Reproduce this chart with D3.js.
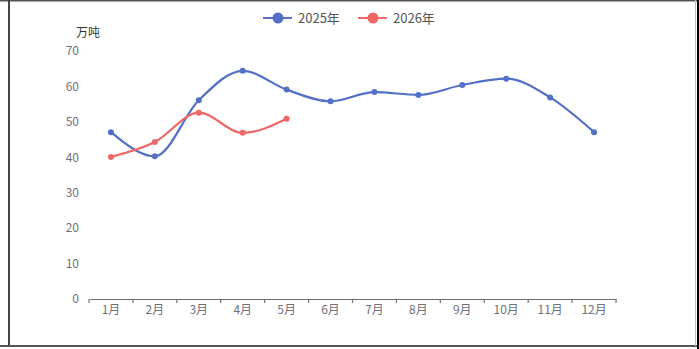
<!DOCTYPE html>
<html>
<head>
<meta charset="utf-8">
<script src="https://cdn.jsdelivr.net/npm/d3@7"></script>
<style>
  body { margin: 0; background: #fff; }
  text { font-family: "Noto Sans CJK SC", "Noto Sans", sans-serif; }
</style>
</head>
<body>
<div class="container"></div>
<script>
var w = 699;
var h = 349;

// data
var months = ["1月", "2月", "3月", "4月", "5月", "6月", "7月", "8月", "9月", "10月", "11月", "12月"];
var values2025 = [47.1, 40.3, 56.1, 64.4, 59.1, 55.8, 58.4, 57.6, 60.4, 62.2, 56.9, 47.1];
var values2026 = [40.1, 44.3, 52.6, 46.9, 50.9];
var yTicks = [0, 10, 20, 30, 40, 50, 60, 70];
var seriesNames = ["2025年", "2026年"];
var colors = ["#5470c6", "#ee6666"];

var svg = d3.select('.container')
  .append('svg')
  .attr('width', w)
  .attr('height', h);

// frame
svg.append('line').attr('x1', 0).attr('x2', w).attr('y1', 0.5).attr('y2', 0.5)
  .style('stroke', '#555').style('stroke-width', 2);
svg.append('line').attr('x1', 9).attr('x2', 9).attr('y1', 0).attr('y2', 346)
  .style('stroke', '#444').style('stroke-width', 2);
svg.append('line').attr('x1', 0).attr('x2', w).attr('y1', 346).attr('y2', 346)
  .style('stroke', '#555').style('stroke-width', 2);
svg.append('line').attr('x1', 695.5).attr('x2', 695.5).attr('y1', 0).attr('y2', 346)
  .style('stroke', '#bbb').style('stroke-width', 1);
svg.append('line').attr('x1', 698).attr('x2', 698).attr('y1', 0).attr('y2', h)
  .style('stroke', '#000').style('stroke-width', 2);

var xScale = d3.scaleBand()
  .domain(months)
  .range([89, 616]);

var yScale = d3.scaleLinear()
  .domain([0, 70])
  .range([299, 51]);

// x axis
var xAxis = d3.axisBottom(xScale).tickSize(0).tickPadding(6);
var xg = svg.append('g')
  .attr('transform', 'translate(0,299)')
  .call(xAxis);
xg.select('.domain').style('stroke', '#6E7079').style('stroke-width', 1.2);
xg.selectAll('text').style('fill', '#6E7079').style('font-size', '12px');

// boundary ticks
var bounds = months.map(function(m) { return xScale(m); }).concat([xScale.range()[1]]);
svg.append('g').selectAll('line')
  .data(bounds)
  .enter()
  .append('line')
  .attr('x1', function(d) { return d; })
  .attr('x2', function(d) { return d; })
  .attr('y1', 299)
  .attr('y2', 303)
  .style('stroke', '#6E7079')
  .style('stroke-width', 1.2);

// y axis labels
var yAxis = d3.axisLeft(yScale).tickValues(yTicks).tickSize(0).tickPadding(10);
var yg = svg.append('g')
  .attr('transform', 'translate(89,0)')
  .call(yAxis);
yg.select('.domain').remove();
yg.selectAll('text').style('fill', '#6E7079').style('font-size', '12px');

svg.append('text')
  .attr('x', 88)
  .attr('y', 37)
  .attr('text-anchor', 'middle')
  .style('fill', '#333')
  .style('font-size', '12px')
  .text('万吨');

var line = d3.line()
  .x(function(d, i) { return xScale(months[i]) + xScale.bandwidth() / 2; })
  .y(function(d) { return yScale(d); })
  .curve(d3.curveMonotoneX);

[values2025, values2026].forEach(function(vals, k) {
  svg.append('path')
    .datum(vals)
    .attr('d', line)
    .style('fill', 'none')
    .style('stroke', colors[k])
    .style('stroke-width', 2.2);

  svg.append('g').selectAll('circle')
    .data(vals)
    .enter()
    .append('circle')
    .attr('cx', function(d, i) { return xScale(months[i]) + xScale.bandwidth() / 2; })
    .attr('cy', function(d) { return yScale(d); })
    .attr('r', 3)
    .style('fill', colors[k]);
});

// legend
var legendX = [263, 358];
var legend = svg.append('g');
seriesNames.forEach(function(name, k) {
  var g = legend.append('g').attr('transform', 'translate(' + legendX[k] + ',18)');
  g.append('line')
    .attr('x1', 0).attr('x2', 29).attr('y1', 0).attr('y2', 0)
    .style('stroke', colors[k]).style('stroke-width', 2);
  g.append('circle')
    .attr('cx', 15).attr('cy', 0).attr('r', 5.5)
    .style('fill', colors[k]);
  g.append('text')
    .attr('x', 35).attr('y', 4.5)
    .style('fill', '#555')
    .style('font-size', '13px')
    .text(name);
});
</script>
</body>
</html>
